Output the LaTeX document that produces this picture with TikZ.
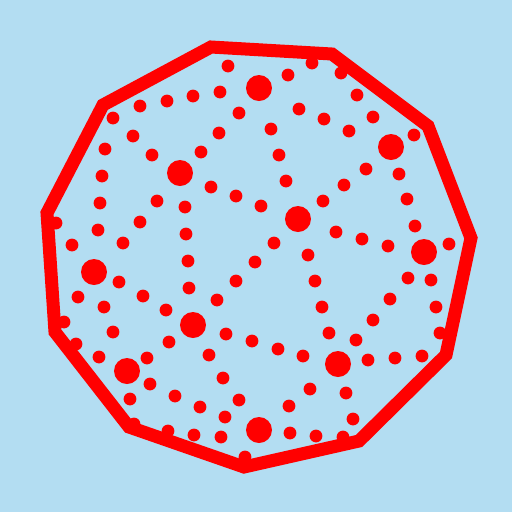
\documentclass[tikz,border=0pt]{standalone}
\usetikzlibrary{calc}
\definecolor{skyback}{RGB}{179,221,242}

\begin{document}
\begin{tikzpicture}[x=0.02cm,y=-0.02cm,
    bigdot/.style={fill=red},
    smalldot/.style={fill=red},
    rim/.style={draw=red,line width=7.4pt,line join=miter}]
  \fill[skyback] (0,0) rectangle (512,512);
  \useasboundingbox (0,0) rectangle (512,512);
  % small dots
  \foreach \x/\y in {228/66,288/75,312/63,341/73,220/92,193/96,167/101,140/106,113/118,
      357/95,239/113,299/109,324/119,373/117,414/135,349/131,219/133,271/129,133/136,
      105/149,152/155,201/152,279/155,366/169,399/174,102/176,286/181,211/187,344/185,
      236/196,261/206,157/201,185/207,407/199,100/203,323/201,140/222,415/226,98/230,
      56/223,186/234,336/232,362/239,388/246,449/244,72/245,123/243,274/243,308/255,
      188/261,255/262,408/278,431/280,119/282,236/281,315/281,78/297,143/296,189/288,
      217/300,104/307,166/310,390/299,436/307,322/307,373/320,64/322,113/332,226/334,
      252/341,329/333,356/340,440/333,76/344,169/342,278/349,303/356,209/355,99/357,
      147/358,368/360,395/358,422/356,223/378,150/384,310/389,130/399,175/396,346/393,
      200/407,239/400,289/406,225/417,353/419,134/424,168/431,194/435,221/437,316/436,
      290/433,343/437,245/457} {
    \fill[smalldot] (\x,\y) circle (6.4);
  }
  % big dots
  \foreach \x/\y in {259/88,391/147,180/173,298/219,424/252,94/272,193/325,338/364,
      127/371,259/430} {
    \fill[bigdot] (\x,\y) circle (13);
  }
  % outline
  \draw[rim] (211,47) -- (332,54) -- (428,126) -- (471,238) -- (446,355) -- (359,441)
    -- (244,467) -- (129,427) -- (55,332) -- (47,213) -- (103,105) -- cycle;
\end{tikzpicture}
\end{document}
